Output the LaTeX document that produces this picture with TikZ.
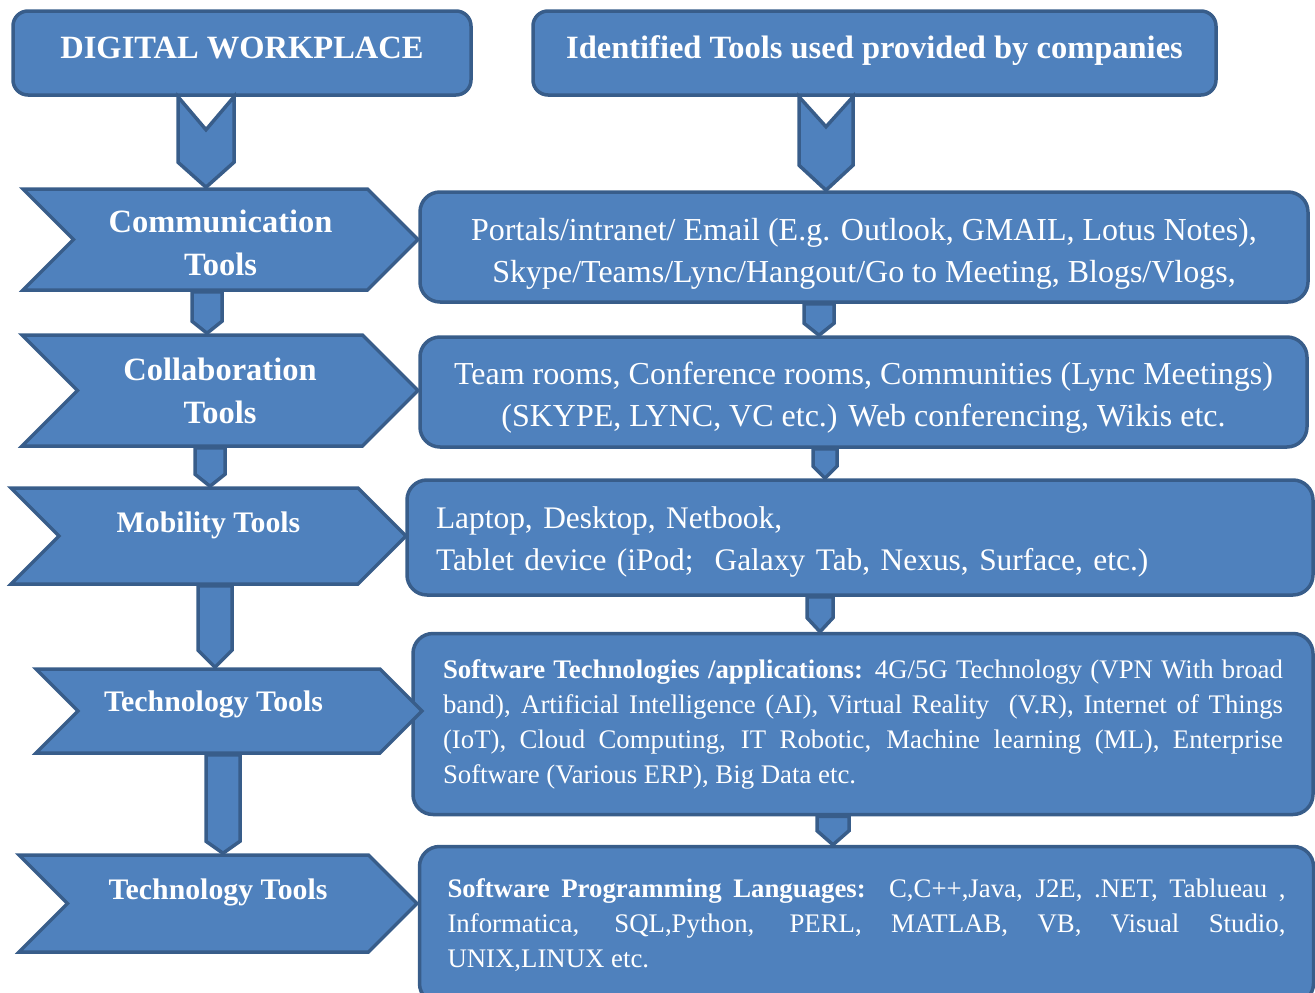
\documentclass[tikz,border=0pt]{standalone}
\usepackage{fontspec}
\setmainfont{Liberation Serif}
\usetikzlibrary{shapes.symbols,calc}

\definecolor{boxblue}{HTML}{4F81BD}
\definecolor{boxedge}{HTML}{385D8A}

\tikzset{
  box/.style={draw=boxedge, fill=boxblue, line width=3.5pt,
    rounded corners=15, text=white, inner sep=0pt},
  chev/.style={signal, signal from=west, signal to=east,
    signal pointer angle=90, draw=boxedge, fill=boxblue,
    line width=3.5pt, text=white, align=center, inner sep=0pt},
  link/.style={draw=boxedge, fill=boxblue, line width=3.5pt, line join=miter},
}

% block connector: from, to, x, half width, tip, notch
\newcommand{\downlink}[6]{%
  \draw[link] let \p1=(#1.south), \p2=(#2.north) in
    (#3pt-#4pt,\y1) -- (#3pt,\y1-#6pt) -- (#3pt+#4pt,\y1)
    -- (#3pt+#4pt,\y2+#5pt) -- (#3pt,\y2) -- (#3pt-#4pt,\y2+#5pt) -- cycle;}

\begin{document}
\begin{tikzpicture}[x=1pt,y=-1pt,
    head/.style={font=\bfseries\fontsize{32.5}{43}\selectfont},
    side/.style={font=\bfseries\fontsize{29.8}{40}\selectfont},
    body/.style={font=\fontsize{32}{42}\selectfont},
    small/.style={font=\fontsize{26.8}{35}\selectfont, align=justify}]
  \useasboundingbox (0,0) rectangle (1315,993);
  \clip (0,0) rectangle (1315,993);

  \node[box, head, text depth=10pt, minimum width=458, minimum height=84] (dw) at (242,53) {DIGITAL WORKPLACE};
  \node[box, head, text depth=11pt, minimum width=683, minimum height=84] (idt) at (874.5,53) {Identified Tools used provided by companies};

  \node[box, body, rounded corners=20, align=center, minimum width=888, minimum height=110] (portal) at (864,247)
    {\rule{0pt}{36pt}Portals/intranet/ Email (E.g. Outlook, GMAIL, Lotus Notes),\\Skype/Teams/Lync/Hangout/Go to Meeting, Blogs/Vlogs,};
  \node[box, body, rounded corners=20, align=center, minimum width=887, minimum height=110] (team) at (863.5,392)
    {\rule{0pt}{34pt}Team rooms, Conference rooms, Communities (Lync Meetings)\\(SKYPE, LYNC, VC etc.) Web conferencing, Wikis etc.};
  \node[box, body, font=\fontsize{31.4}{42}\selectfont, rounded corners=20, align=left, text width=848, minimum width=906, minimum height=115] (lap) at (860,537.5)
    {\rule{0pt}{31pt}Laptop, Desktop, Netbook,\\Tablet device (iPod;\ \ Galaxy Tab, Nexus, Surface, etc.)};
  \node[box, small, rounded corners=20, text width=840, minimum width=900, minimum height=181] (soft) at (863,724)
    {\textbf{Software Technologies /applications:} 4G/5G Technology (VPN With broad\linebreak
     band), Artificial Intelligence (AI), Virtual Reality\ \ (V.R), Internet of Things\linebreak
     (IoT), Cloud Computing, IT Robotic, Machine learning (ML), Enterprise\linebreak
     Software (Various ERP), Big Data etc.};
  \node[box, small, rounded corners=20, text width=838, minimum width=894, minimum height=157] (lang) at (866.5,925)
    {\textbf{Software Programming Languages:}\ \ C,C++,Java, J2E, .NET, Tablueau ,\linebreak
     Informatica, SQL,Python, PERL, MATLAB, VB, Visual Studio,\linebreak
     UNIX,LINUX etc.};

  \node[chev, head, minimum width=395, minimum height=101] (comm) at (220.5,239.5) {\rule{0pt}{30pt}Communication\\Tools};
  \node[chev, head, minimum width=396, minimum height=111] (coll) at (220,390.5) {Collaboration\\Tools};
  \node[chev, side, text depth=28pt, minimum width=395, minimum height=96] (mob) at (208.5,536) {Mobility Tools};
  \node[chev, side, text depth=20pt, minimum width=386, minimum height=84] (tech) at (229,711) {Technology Tools\hspace*{31pt}};
  \node[chev, side, text depth=28pt, minimum width=398, minimum height=97] (prog) at (218,903.5) {Technology Tools};

  \downlink{dw}{comm}{206}{28}{25}{33}
  \downlink{idt}{portal}{826}{27}{25}{30}
  \downlink{comm}{coll}{207}{15}{12}{0}
  \downlink{coll}{mob}{210}{15}{12}{0}
  \downlink{mob}{tech}{215}{17}{17}{0}
  \downlink{tech}{prog}{223}{17}{12}{0}
  \downlink{portal}{team}{819}{15}{12}{0}
  \downlink{team}{lap}{825}{12}{12}{0}
  \downlink{lap}{soft}{820}{13}{14}{0}
  \downlink{soft}{lang}{833}{16}{14}{0}
\end{tikzpicture}
\end{document}
